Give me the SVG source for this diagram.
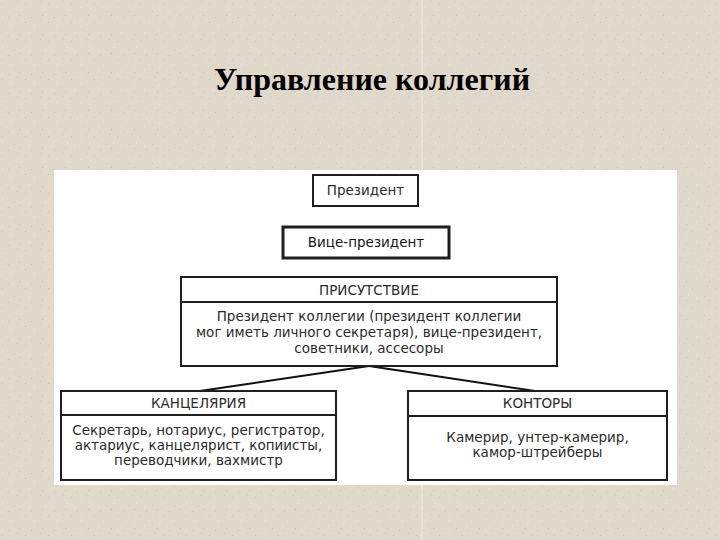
<svg xmlns="http://www.w3.org/2000/svg" width="720" height="540" viewBox="0 0 720 540">
  <defs>
    <pattern id="grain" x="0" y="0" width="23" height="19" patternUnits="userSpaceOnUse">
      <rect width="23" height="19" fill="#dfd8cb"/>
      <rect x="2" y="3" width="1" height="1" fill="#c9c1b2"/>
      <rect x="11" y="7" width="1" height="1" fill="#ece7dd"/>
      <rect x="17" y="1" width="1" height="1" fill="#cfc7b8"/>
      <rect x="6" y="13" width="1" height="1" fill="#ebe6dc"/>
      <rect x="19" y="15" width="1" height="1" fill="#c7bfb0"/>
      <rect x="14" y="11" width="1" height="1" fill="#d2cabb"/>
      <rect x="8" y="17" width="1" height="1" fill="#cbc3b4"/>
      <rect x="21" y="9" width="1" height="1" fill="#e9e4da"/>
    </pattern>
    <style>
      .box { fill: #ffffff; stroke: #1e1e1e; stroke-width: 2; }
      .div { stroke: #1e1e1e; stroke-width: 2; }
      .t { font-family: "DejaVu Sans", "Noto Sans", sans-serif; font-size: 13.5px; fill: #2b2b2b; text-anchor: middle; }
      .title { font-family: "Liberation Serif", "DejaVu Serif", serif; font-size: 32px; font-weight: bold; fill: #000; text-anchor: middle; }
      .conn { stroke: #111; stroke-width: 2; fill: none; }
    </style>
  </defs>

  <rect width="720" height="540" fill="url(#grain)"/>
  <line x1="422" y1="0" x2="422" y2="540" stroke="#f4f1ea" stroke-width="1"/>

  <text class="title" x="372" y="90">Управление коллегий</text>

  <rect x="54" y="170" width="623" height="315" fill="#ffffff"/>

  <g id="connectors">
    <line class="conn" x1="369" y1="366" x2="200" y2="391"/>
    <line class="conn" x1="369" y1="366" x2="535" y2="391"/>
  </g>

  <g id="president">
    <rect class="box" x="313" y="175" width="105" height="31"/>
    <text class="t" x="365.5" y="195">Президент</text>
  </g>

  <g id="vice-president">
    <rect class="box" x="283" y="227" width="166" height="31" style="stroke-width:3"/>
    <text class="t" x="366" y="247" style="fill:#151515">Вице-президент</text>
  </g>

  <g id="prisutstvie">
    <rect class="box" x="181" y="277" width="376" height="89"/>
    <line class="div" x1="181" y1="302" x2="557" y2="302"/>
    <text class="t" x="369" y="295">ПРИСУТСТВИЕ</text>
    <text class="t" x="369" y="321">Президент коллегии (президент коллегии</text>
    <text class="t" x="369" y="337">мог иметь личного секретаря), вице-президент,</text>
    <text class="t" x="369" y="353">советники, ассесоры</text>
  </g>

  <g id="kantselyariya">
    <rect class="box" x="61" y="391" width="275" height="89"/>
    <line class="div" x1="61" y1="415" x2="336" y2="415"/>
    <text class="t" x="198.5" y="408">КАНЦЕЛЯРИЯ</text>
    <text class="t" x="198.5" y="435">Секретарь, нотариус, регистратор,</text>
    <text class="t" x="198.5" y="450">актариус, канцелярист, копиисты,</text>
    <text class="t" x="198.5" y="465">переводчики, вахмистр</text>
  </g>

  <g id="kontory">
    <rect class="box" x="408" y="391" width="259" height="89"/>
    <line class="div" x1="408" y1="416" x2="667" y2="416"/>
    <text class="t" x="537.5" y="408">КОНТОРЫ</text>
    <text class="t" x="537.5" y="442">Камерир, унтер-камерир,</text>
    <text class="t" x="537.5" y="457">камор-штрейберы</text>
  </g>
</svg>
